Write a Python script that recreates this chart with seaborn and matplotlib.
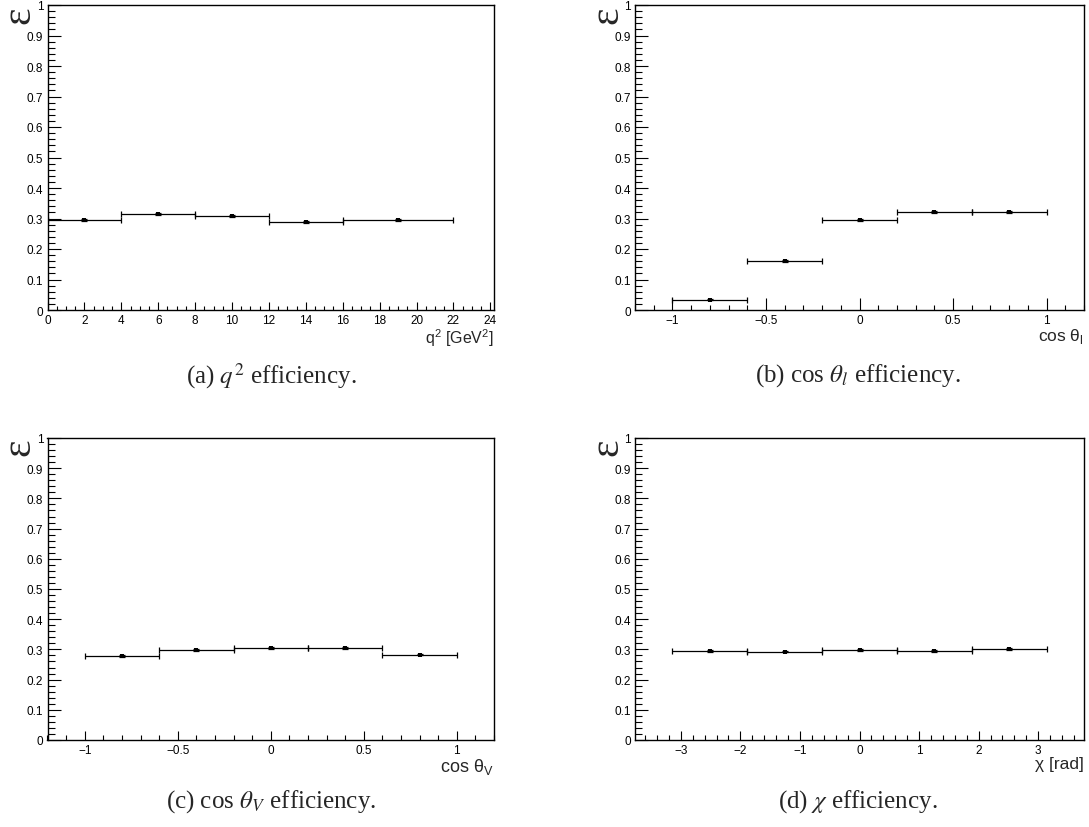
import numpy as np
import pandas as pd
import seaborn as sns
import matplotlib
matplotlib.use("Agg")
import matplotlib.pyplot as plt
from matplotlib.ticker import FixedLocator, FixedFormatter, MultipleLocator

# ---- efficiency per bin -------------------------------------------------
q2_edges = [0.0, 4.0, 8.0, 12.0, 16.0, 22.0]
q2_eff = [0.295, 0.314, 0.307, 0.2875, 0.295]
q2_err = [0.003, 0.003, 0.003, 0.003, 0.003]

cosl_edges = [-1.0, -0.6, -0.2, 0.2, 0.6, 1.0]
cosl_eff = [0.034, 0.162, 0.296, 0.322, 0.322]
cosl_err = [0.002, 0.003, 0.003, 0.003, 0.003]

cosv_edges = [-1.0, -0.6, -0.2, 0.2, 0.6, 1.0]
cosv_eff = [0.278, 0.298, 0.304, 0.305, 0.283]
cosv_err = [0.003, 0.003, 0.003, 0.003, 0.003]

chi_edges = [-3.1416, -1.885, -0.6283, 0.6283, 1.885, 3.1416]
chi_eff = [0.294, 0.293, 0.297, 0.294, 0.300]
chi_err = [0.003, 0.003, 0.003, 0.003, 0.003]

# ---- axis ticks and labels ----------------------------------------------
eff_ticks = [0.0, 0.1, 0.2, 0.3, 0.4, 0.5, 0.6, 0.7, 0.8, 0.9, 1.0]
eff_tick_labels = ["0", "0.1", "0.2", "0.3", "0.4", "0.5", "0.6", "0.7", "0.8", "0.9", "1"]

q2_ticks = [0, 2, 4, 6, 8, 10, 12, 14, 16, 18, 20, 22, 24]
q2_tick_labels = ["0", "2", "4", "6", "8", "10", "12", "14", "16", "18", "20", "22", "24"]
cos_ticks = [-1.0, -0.5, 0.0, 0.5, 1.0]
cos_tick_labels = ["\u22121", "\u22120.5", "0", "0.5", "1"]
chi_ticks = [-3, -2, -1, 0, 1, 2, 3]
chi_tick_labels = ["\u22123", "\u22122", "\u22121", "0", "1", "2", "3"]

sns.set_theme(style="ticks")
plt.rcParams["font.family"] = ["Liberation Sans", "DejaVu Sans"]
plt.rcParams["axes.linewidth"] = 1.0
plt.rcParams["axes.edgecolor"] = "black"

W, H = 1089, 828
fig = plt.figure(figsize=(W / 100, H / 100), dpi=100)
fig.patch.set_facecolor("white")


def px_axes(left, top, right, bottom):
    return fig.add_axes([left / W, 1 - bottom / H, (right - left) / W, (bottom - top) / H])


panels = [
    dict(rect=(47.5, 6, 494, 311), edges=q2_edges, eff=q2_eff, err=q2_err,
         xlim=(0, 24.2), ticks=q2_ticks, labels=q2_tick_labels, minor=0.5,
         xmaj=5.8, xmin=2.9, xlsize=11.5,
         xlabel="q$^{\\mathregular{2}}$ [GeV$^{\\mathregular{2}}$]",
         caption="(a) $q^2$ efficiency.", cap_xy=(271, 376)),
    dict(rect=(635, 6, 1084, 311), edges=cosl_edges, eff=cosl_eff, err=cosl_err,
         xlim=(-1.2, 1.2), ticks=cos_ticks, labels=cos_tick_labels, minor=0.1,
         xmaj=8.6, xmin=3.6, xlsize=12.5,
         xlabel="cos \u03b8$_{\\mathregular{l}}$",
         caption="(b) cos $\\theta_l$ efficiency.", cap_xy=(858, 376)),
    dict(rect=(47.5, 439, 494, 741), edges=cosv_edges, eff=cosv_eff, err=cosv_err,
         xlim=(-1.2, 1.2), ticks=cos_ticks, labels=cos_tick_labels, minor=0.1,
         xmaj=6.5, xmin=3.4, xlsize=13,
         xlabel="cos \u03b8$_{\\mathregular{V}}$",
         caption="(c) cos $\\theta_V$ efficiency.", cap_xy=(271, 802)),
    dict(rect=(635, 439, 1084, 741), edges=chi_edges, eff=chi_eff, err=chi_err,
         xlim=(-3.77, 3.77), ticks=chi_ticks, labels=chi_tick_labels, minor=0.2,
         xmaj=6.5, xmin=3.4, xlsize=12.5,
         xlabel="\u03c7 [rad]",
         caption="(d) $\\chi$ efficiency.", cap_xy=(858, 802)),
]

for p in panels:
    left, top, right, bottom = p["rect"]
    ax = px_axes(left, top, right, bottom)
    ax.set_facecolor("white")
    edges = np.asarray(p["edges"])
    centers = 0.5 * (edges[:-1] + edges[1:])
    halfw = 0.5 * (edges[1:] - edges[:-1])
    df = pd.DataFrame({"x": centers, "eff": p["eff"]})

    ax.errorbar(df["x"], df["eff"], xerr=halfw, yerr=p["err"], fmt="none",
                ecolor="black", elinewidth=0.9, capsize=2.0, capthick=0.9, zorder=2)
    sns.scatterplot(data=df, x="x", y="eff", marker="s", color="black",
                    s=8, linewidth=0, ax=ax, zorder=3)

    ax.set_xlim(*p["xlim"])
    ax.set_ylim(0, 1)
    ax.yaxis.set_major_locator(FixedLocator(eff_ticks))
    ax.yaxis.set_major_formatter(FixedFormatter(eff_tick_labels))
    ax.yaxis.set_minor_locator(MultipleLocator(0.02))
    ax.xaxis.set_major_locator(FixedLocator(p["ticks"]))
    ax.xaxis.set_major_formatter(FixedFormatter(p["labels"]))
    ax.xaxis.set_minor_locator(MultipleLocator(p["minor"]))

    ax.tick_params(axis="both", which="both", direction="in", top=False, right=False,
                   colors="black", width=0.8)
    ax.tick_params(axis="y", which="major", length=9.4, pad=3, labelsize=8.5)
    ax.tick_params(axis="y", which="minor", length=5.0)
    ax.tick_params(axis="x", which="major", length=p["xmaj"], pad=3, labelsize=8.5)
    ax.tick_params(axis="x", which="minor", length=p["xmin"])
    for s in ax.spines.values():
        s.set_visible(True)
        s.set_color("black")
        s.set_linewidth(1.0)

    # efficiency symbol sits at the top of the vertical axis
    ax.set_ylabel("\u03b5", fontsize=30, family=["Liberation Serif", "DejaVu Serif"],
                  loc="top")
    ax.yaxis.set_label_coords(-28.0 / (right - left), 1.0)
    ax.yaxis.label.set_verticalalignment("center")

    ax.set_xlabel(p["xlabel"], fontsize=p["xlsize"], loc="right")
    ax.xaxis.set_label_coords(1.0, -0.052)
    ax.xaxis.label.set_verticalalignment("top")

    cx, cy = p["cap_xy"]
    fig.text(cx / W, 1 - cy / H, p["caption"], ha="center", va="center",
             fontsize=18, family=["Liberation Serif", "DejaVu Serif"],
             math_fontfamily="stix")

fig.savefig("out.png", dpi=100, facecolor="white")
